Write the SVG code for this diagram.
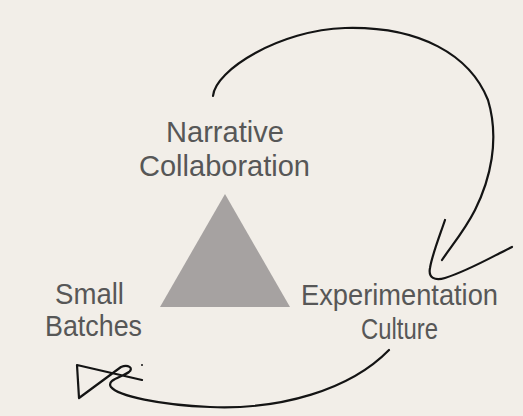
<svg xmlns="http://www.w3.org/2000/svg" width="523" height="416" viewBox="0 0 523 416">
<style>
.lbl{font-family:"Liberation Sans Narrow","Liberation Sans",Arial,sans-serif;font-size:29px;fill:#575757;text-anchor:start}
.ink{fill:none;stroke:#141414;stroke-width:2.2;stroke-linecap:round;stroke-linejoin:round}
</style>
<rect width="523" height="416" fill="#f2eee8"/>
<g id="triangle"><polygon points="225,194 160,307 290,307" fill="#a6a2a1"/></g>
<g id="narrative-collaboration">
<text class="lbl" x="166" y="142" textLength="118" lengthAdjust="spacingAndGlyphs">Narrative</text>
<text class="lbl" x="139" y="176" textLength="171" lengthAdjust="spacingAndGlyphs">Collaboration</text>
</g>
<g id="small-batches">
<text class="lbl" x="55" y="304" textLength="69" lengthAdjust="spacingAndGlyphs">Small</text>
<text class="lbl" x="45" y="336" textLength="97" lengthAdjust="spacingAndGlyphs">Batches</text>
</g>
<g id="experimentation-culture">
<text class="lbl" x="301" y="305" textLength="197" lengthAdjust="spacingAndGlyphs">Experimentation</text>
<text class="lbl" x="361" y="339" textLength="77" lengthAdjust="spacingAndGlyphs">Culture</text>
</g>
<g id="connectors">
<path class="ink" d="M213,96 C215,70 280,30 345,28 C420,26 470,55 488,100 C500,140 490,180 475,210 C465,230 450,248 442,260"/>
<path class="ink" d="M445,220 C440,235 432,255 430,268 C428,278 435,281 445,278 C470,270 495,255 512,247"/>
<path class="ink" d="M389,350 C350,390 280,410 210,407 C160,405 118,396 111,387 C106,380 122,377 129,372 C134,368 128,364 121,367 L79,398 L77,365 L142,380"/>
<circle cx="142" cy="365" r="1" fill="#141414"/>
</g>
</svg>
